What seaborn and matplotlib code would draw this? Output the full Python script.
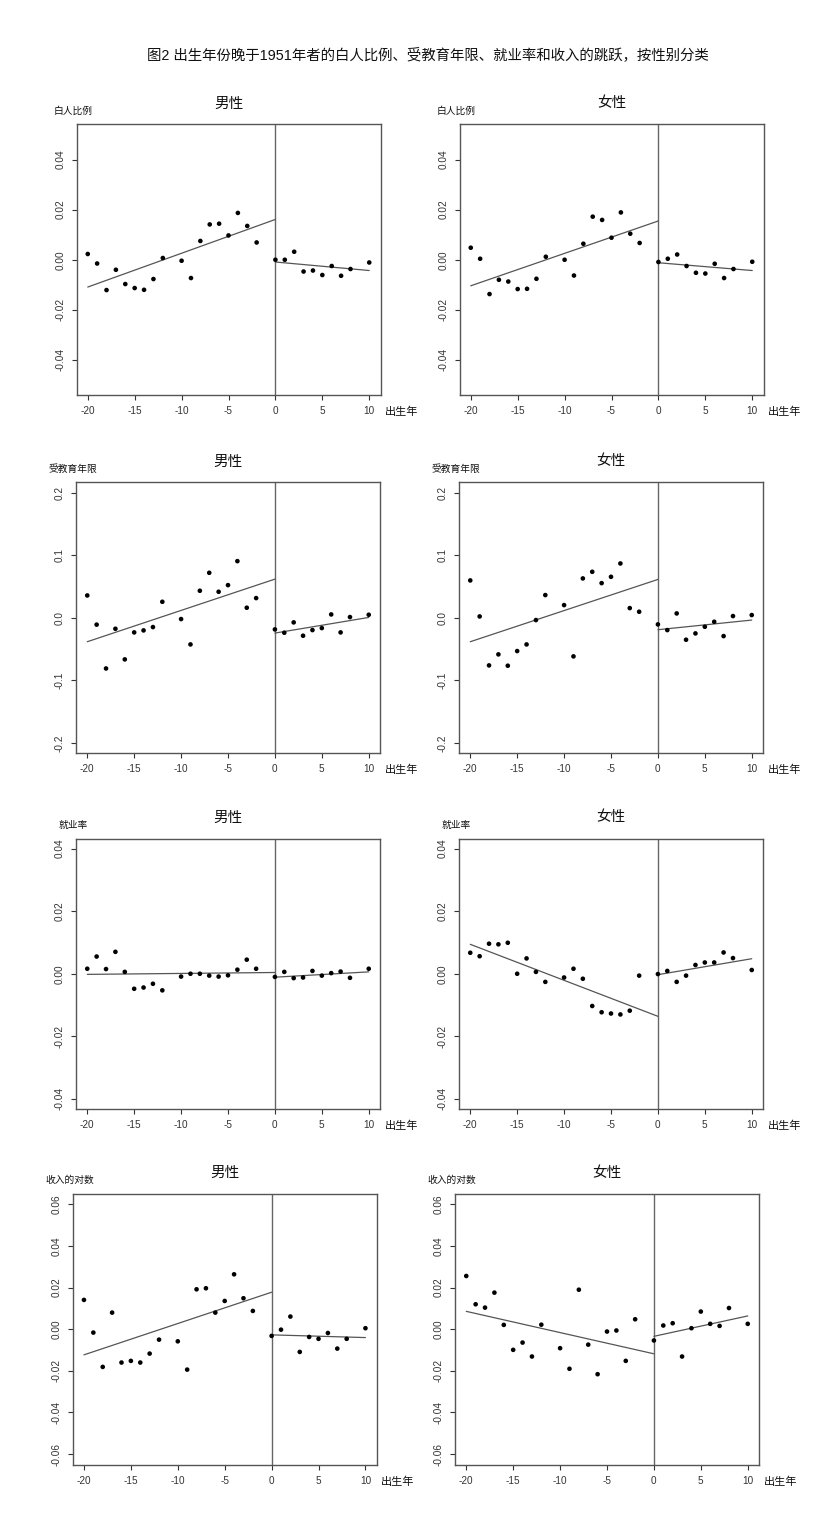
import numpy as np
import matplotlib
matplotlib.use("Agg")
import matplotlib.pyplot as plt
import pandas as pd
import seaborn as sns

# birth year relative to 1951 (some years are absent in the source)
x_left = [-20, -19, -18, -17, -16, -15, -14, -13, -12, -10, -9, -8, -7, -6, -5, -4, -3, -2]
x_right = [0, 1, 2, 3, 4, 5, 6, 7, 8, 10]
fit_x_left = [-20, 0]
fit_x_right = [0, 10]

white_m_left = [0.0023, -0.0015, -0.0121, -0.0040, -0.0097, -0.0113, -0.0120, -0.0077, 0.0007,
                -0.0004, -0.0073, 0.0075, 0.0141, 0.0144, 0.0097, 0.0187, 0.0135, 0.0069]
white_m_right = [0.0, 0.0, 0.0032, -0.0047, -0.0043, -0.0061, -0.0025, -0.0064, -0.0037, -0.0011]
white_m_fit = [[-0.0109, 0.0161], [-0.0009, -0.0043]]

white_f_left = [0.0048, 0.0004, -0.0137, -0.0080, -0.0087, -0.0117, -0.0116, -0.0076, 0.0012,
                0.0000, -0.0063, 0.0064, 0.0172, 0.0159, 0.0088, 0.0189, 0.0104, 0.0067]
white_f_right = [-0.0009, 0.0004, 0.0021, -0.0025, -0.0052, -0.0055, -0.0016, -0.0073, -0.0037, -0.0008]
white_f_fit = [[-0.0104, 0.0155], [-0.0012, -0.0043]]

edu_m_left = [0.0356, -0.0110, -0.0810, -0.0176, -0.0665, -0.0234, -0.0202, -0.0149, 0.0255,
              -0.0021, -0.0426, 0.0431, 0.0718, 0.0415, 0.0521, 0.0904, 0.0160, 0.0314]
edu_m_right = [-0.0186, -0.0239, -0.0074, -0.0287, -0.0197, -0.0165, 0.0053, -0.0234, 0.0011, 0.0048]
edu_m_fit = [[-0.0383, 0.0617], [-0.0245, 0.0005]]

edu_f_left = [0.0596, 0.0021, -0.0761, -0.0585, -0.0766, -0.0532, -0.0426, -0.0037, 0.0362,
              0.0202, -0.0617, 0.0628, 0.0734, 0.0553, 0.0654, 0.0867, 0.0154, 0.0096]
edu_f_right = [-0.0106, -0.0197, 0.0069, -0.0351, -0.0250, -0.0144, -0.0064, -0.0293, 0.0027, 0.0043]
edu_f_fit = [[-0.0383, 0.0612], [-0.0191, -0.0037]]

emp_m_left = [0.0016, 0.0055, 0.0015, 0.0070, 0.0006, -0.0048, -0.0044, -0.0032, -0.0053,
              -0.0009, 0.0000, 0.0000, -0.0006, -0.0009, -0.0005, 0.0013, 0.0045, 0.0016]
emp_m_right = [-0.0010, 0.0006, -0.0014, -0.0012, 0.0009, -0.0006, 0.0002, 0.0007, -0.0013, 0.0016]
emp_m_fit = [[-0.0002, 0.0004], [-0.0011, 0.0006]]

emp_f_left = [0.0067, 0.0056, 0.0096, 0.0094, 0.0099, 0.0000, 0.0049, 0.0006, -0.0026,
              -0.0012, 0.0016, -0.0016, -0.0103, -0.0123, -0.0127, -0.0130, -0.0118, -0.0006]
emp_f_right = [-0.0001, 0.0009, -0.0026, -0.0006, 0.0028, 0.0036, 0.0036, 0.0068, 0.0050, 0.0012]
emp_f_fit = [[0.0094, -0.0136], [-0.0003, 0.0048]]

inc_m_left = [0.0141, -0.0016, -0.0181, 0.0080, -0.0160, -0.0152, -0.0160, -0.0117, -0.0050,
              -0.0058, -0.0194, 0.0192, 0.0197, 0.0080, 0.0136, 0.0264, 0.0149, 0.0088]
inc_m_right = [-0.0032, -0.0002, 0.0061, -0.0109, -0.0037, -0.0046, -0.0018, -0.0093, -0.0046, 0.0005]
inc_m_fit = [[-0.0123, 0.0178], [-0.0027, -0.0040]]

inc_f_left = [0.0256, 0.0120, 0.0104, 0.0176, 0.0021, -0.0099, -0.0064, -0.0131, 0.0022,
              -0.0091, -0.0190, 0.0190, -0.0074, -0.0216, -0.0011, -0.0006, -0.0152, 0.0048]
inc_f_right = [-0.0054, 0.0018, 0.0029, -0.0131, 0.0005, 0.0085, 0.0026, 0.0016, 0.0102, 0.0026]
inc_f_fit = [[0.0086, -0.0118], [-0.0034, 0.0064]]

row_labels = ["白人比例", "受教育年限", "就业率", "收入的对数"]
col_titles = ["男性", "女性"]
x_ticks = [-20, -15, -10, -5, 0, 5, 10]
ticks_white = [-0.04, -0.02, 0.0, 0.02, 0.04]
ticks_edu = [-0.2, -0.1, 0.0, 0.1, 0.2]
ticks_emp = [-0.04, -0.02, 0.0, 0.02, 0.04]
ticks_inc = [-0.06, -0.04, -0.02, 0.0, 0.02, 0.04, 0.06]

sns.set_style("ticks")
plt.rcParams['font.family'] = ['Liberation Sans', 'Noto Sans CJK SC', 'DejaVu Sans']

W, H = 838, 1532
fig = plt.figure(figsize=(W / 100, H / 100), dpi=100)
fig.patch.set_facecolor("white")

fig.text(428 / W, 1 - 55 / H, "图2 出生年份晚于1951年者的白人比例、受教育年限、就业率和收入的跳跃，按性别分类",
         ha="center", va="center", fontsize=10.4, color="#111")

rows = [
    (white_m_left, white_m_right, white_m_fit, white_f_left, white_f_right, white_f_fit,
     ticks_white, "{:.2f}", 0.054),
    (edu_m_left, edu_m_right, edu_m_fit, edu_f_left, edu_f_right, edu_f_fit,
     ticks_edu, "{:.1f}", 0.216),
    (emp_m_left, emp_m_right, emp_m_fit, emp_f_left, emp_f_right, emp_f_fit,
     ticks_emp, "{:.2f}", 0.0432),
    (inc_m_left, inc_m_right, inc_m_fit, inc_f_left, inc_f_right, inc_f_fit,
     ticks_inc, "{:.2f}", 0.065),
]

tops = [124.5, 482.5, 838.5, 1194]
lefts = [[76.5, 459.5], [76, 459], [76, 459], [72.7, 455]]
pw, ph = 304, 270.5
edge = "#555555"

for r, (ml, mr, mf, fl, fr, ff, yt, fmt, ylim) in enumerate(rows):
    for c, (yl, yr, fit) in enumerate([(ml, mr, mf), (fl, fr, ff)]):
        lx = lefts[r][c]
        ty = tops[r]
        ax = fig.add_axes([lx / W, 1 - (ty + ph) / H, pw / W, ph / H])
        pts = pd.DataFrame({"x": x_left + x_right, "y": yl + yr})
        ax.axvline(0, color="#666666", lw=1.0, zorder=1)
        sns.lineplot(x=fit_x_left, y=fit[0], ax=ax, color="#555555", lw=0.9, zorder=2)
        sns.lineplot(x=fit_x_right, y=fit[1], ax=ax, color="#555555", lw=0.9, zorder=2)
        sns.scatterplot(data=pts, x="x", y="y", ax=ax, color="black", s=11,
                        edgecolor="none", zorder=3)
        ax.set_xlim(-21.2, 11.2)
        ax.set_ylim(-ylim, ylim)
        ax.set_xticks(x_ticks)
        ax.set_xticklabels([str(v) for v in x_ticks])
        ax.set_yticks(yt)
        ax.set_yticklabels([fmt.format(v).replace("-0.00", "0.00") for v in yt],
                           rotation=90, va="center")
        ax.set_xlabel("")
        ax.set_ylabel("")
        ax.tick_params(direction="out", length=3.6, width=0.8, colors="#333333",
                       labelsize=7.2, pad=4.5)
        for s in ax.spines.values():
            s.set_visible(True)
            s.set_color(edge)
            s.set_linewidth(1.0)
        # panel title, y label and x label in R style
        fig.text((lx + pw / 2) / W, 1 - (ty - 21) / H, col_titles[c],
                 ha="center", va="center", fontsize=10.5, color="#111")
        fig.text((lx - 3) / W, 1 - (ty - 14) / H, row_labels[r],
                 ha="center", va="center", fontsize=7, color="#111")
        fig.text((lx + pw + 4.5) / W, 1 - (ty + ph + 17) / H, "出生年",
                 ha="left", va="center", fontsize=8, color="#111")

fig.savefig("out.png", dpi=100, facecolor="white")
